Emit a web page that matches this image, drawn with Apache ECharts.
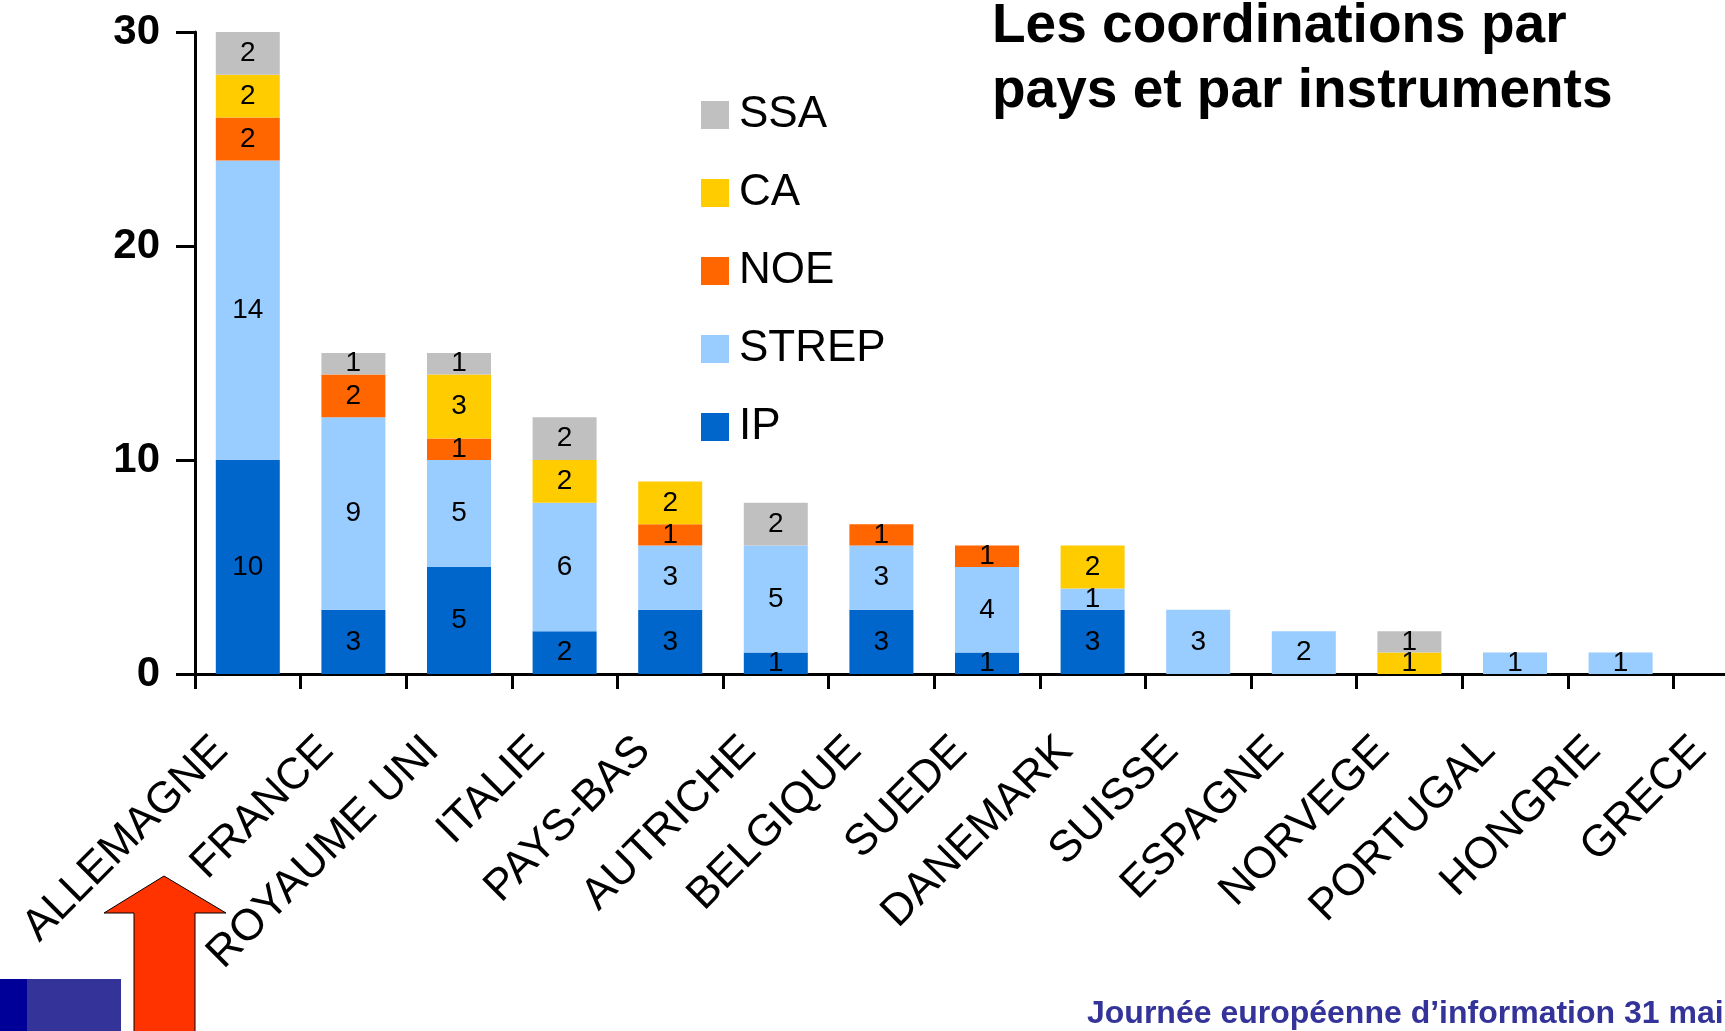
<!DOCTYPE html>
<html>
<head>
<meta charset="utf-8">
<script src="https://cdn.jsdelivr.net/npm/echarts@6/dist/echarts.min.js"></script>
<style>
html,body{margin:0;padding:0;background:#fff;width:1725px;height:1031px;overflow:hidden;}
#chart{width:1800px;height:1031px;}
</style>
</head>
<body>
<div id="chart"></div>
<script>
const categories = ['ALLEMAGNE','FRANCE','ROYAUME UNI','ITALIE','PAYS-BAS','AUTRICHE','BELGIQUE','SUEDE','DANEMARK','SUISSE','ESPAGNE','NORVEGE','PORTUGAL','HONGRIE','GRECE'];
const ipValues    = [10, 3, 5, 2, 3, 1, 3, 1, 3, null, null, null, null, null, null];
const strepValues = [14, 9, 5, 6, 3, 5, 3, 4, 1, 3, 2, null, 1, 1, null];
const noeValues   = [2, 2, 1, null, 1, null, 1, 1, null, null, null, null, null, null, null];
const caValues    = [2, null, 3, 2, 2, null, null, null, 2, null, null, 1, null, null, null];
const ssaValues   = [2, 1, 1, 2, null, 2, null, null, null, null, null, 1, null, null, null];
const yTicks = [0, 10, 20, 30];
const legendOrder = ['SSA', 'CA', 'NOE', 'STREP', 'IP'];
const titleText = 'Les coordinations par\npays et par instruments';
const footerText = 'Journée européenne d\u2019information 31 mai';

const FONT = '"Liberation Sans", Arial, sans-serif';
const chart = echarts.init(document.getElementById('chart'), null, {renderer: 'canvas'});

function mkSeries(name, data, color) {
  return {
    name: name,
    type: 'bar',
    stack: 'total',
    data: data,
    barWidth: 64,
    itemStyle: {color: color},
    label: {
      show: true,
      position: 'inside',
      color: '#000',
      fontFamily: FONT,
      fontSize: 28
    }
  };
}

chart.setOption({
  animation: false,
  backgroundColor: '#ffffff',
  title: {
    text: titleText,
    left: 992,
    top: -6,
    padding: 0,
    textStyle: {fontFamily: FONT, fontWeight: 'bold', fontSize: 55, lineHeight: 65, color: '#000'}
  },
  legend: {
    data: legendOrder,
    orient: 'vertical',
    left: 701,
    top: 93,
    padding: 0,
    itemWidth: 28,
    itemHeight: 28,
    itemGap: 34,
    icon: 'rect',
    selectedMode: false,
    textStyle: {fontFamily: FONT, fontSize: 44, lineHeight: 44, color: '#000', padding: [0, 0, 0, 5]}
  },
  grid: {left: 195, top: 32, width: 1584, height: 642, containLabel: false},
  xAxis: {
    type: 'category',
    data: categories,
    axisLine: {show: true, lineStyle: {color: '#000', width: 3}},
    axisTick: {show: true, length: 15, lineStyle: {color: '#000', width: 3}},
    axisLabel: {
      interval: 0,
      rotate: 45,
      margin: 43,
      padding: [0, 38, 0, 0],
      color: '#000',
      fontFamily: FONT,
      fontSize: 44
    },
    splitLine: {show: false}
  },
  yAxis: {
    type: 'value',
    min: 0,
    max: 30,
    interval: 10,
    axisLine: {show: true, lineStyle: {color: '#000', width: 3}},
    axisTick: {show: true, length: 19, lineStyle: {color: '#000', width: 3}},
    axisLabel: {
      margin: 35,
      color: '#000',
      fontFamily: FONT,
      fontWeight: 'bold',
      fontSize: 42,
      formatter: function (v) { return yTicks.indexOf(v) >= 0 ? String(v) : ''; }
    },
    splitLine: {show: false}
  },
  series: [
    mkSeries('IP', ipValues, '#0066CC'),
    mkSeries('STREP', strepValues, '#99CCFF'),
    mkSeries('NOE', noeValues, '#FF6600'),
    mkSeries('CA', caValues, '#FFCC00'),
    mkSeries('SSA', ssaValues, '#C0C0C0')
  ],
  graphic: [
    {type: 'rect', shape: {x: 0, y: 979, width: 27, height: 52}, style: {fill: '#000099'}, z: 10},
    {type: 'rect', shape: {x: 27, y: 979, width: 94, height: 52}, style: {fill: '#333399'}, z: 10},
    {
      type: 'polygon',
      shape: {points: [[164, 876], [226, 913], [195, 913], [195, 1033], [134, 1033], [134, 913], [104, 913]]},
      style: {fill: '#FF3300', stroke: '#000', lineWidth: 1},
      z: 10
    },
    {
      type: 'text',
      x: 1087,
      y: 1014,
      style: {text: footerText, fill: '#333399', font: 'bold 32px ' + FONT, textVerticalAlign: 'middle', verticalAlign: 'middle'},
      z: 10
    }
  ]
});
</script>
</body>
</html>
